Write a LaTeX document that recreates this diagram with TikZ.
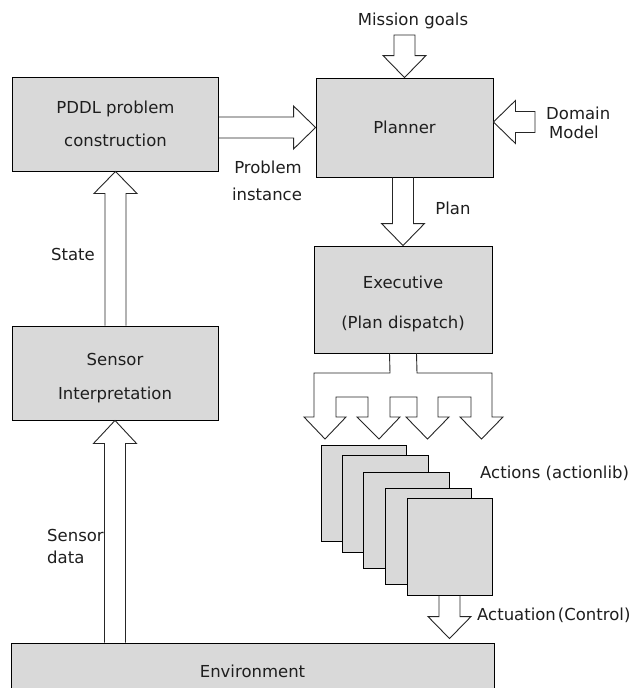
\documentclass[tikz,border=0pt]{standalone}
\usepackage{fontspec}
\setmainfont{DejaVu Sans}
\usetikzlibrary{calc}
\definecolor{boxfill}{RGB}{217,217,217}
\definecolor{ink}{RGB}{30,30,30}
\tikzset{
  block/.style={draw=black, fill=boxfill, line width=0.9pt, inner sep=0pt,
                align=center, text=ink},
  blk/.style={draw=black!85, line width=0.9pt},
  lbl/.style={text=ink, inner sep=0pt, text height=12pt, text depth=0pt},
}
% vertical block arrow: shaft start, tip, signed head length, path ending
\newcommand\vflow[4]{%
  \draw[blk] let \p1=(#1), \p2=(#2) in
    (\x2-10.5pt,\y1) -- (\x2-10.5pt,\y2+#3) -- (\x2-21.5pt,\y2+#3) -- (\x2,\y2)
    -- (\x2+21.5pt,\y2+#3) -- (\x2+10.5pt,\y2+#3) -- (\x2+10.5pt,\y1) #4;}
% horizontal block arrow: shaft start, tip, signed head length, path ending
\newcommand\hflow[4]{%
  \draw[blk] let \p1=(#1), \p2=(#2) in
    (\x1,\y2+10.5pt) -- (\x2-#3,\y2+10.5pt) -- (\x2-#3,\y2+21.5pt) -- (\x2,\y2)
    -- (\x2-#3,\y2-21.5pt) -- (\x2-#3,\y2-10.5pt) -- (\x1,\y2-10.5pt) #4;}
\begin{document}
\begin{tikzpicture}[x=1pt,y=-1pt,font=\fontsize{16.5}{20}\selectfont]
\useasboundingbox[fill=white] (0,0) rectangle (632,688);

% main blocks
\node[block, minimum width=206, minimum height=94] (pddl) at (115.5,124)
  {PDDL problem\\[13pt]construction};
\node[block, minimum width=177, minimum height=99] (planner) at (404.5,127.5)
  {Planner};
\node[block, minimum width=178, minimum height=107] (exec) at (403,299.5)
  {\rule{0pt}{22pt}Executive\\[20pt](Plan dispatch)};
\node[block, minimum width=206, minimum height=94] (sensor) at (115,373)
  {\rule{0pt}{22pt}Sensor\\[14pt]Interpretation};
\node[block, minimum width=483, minimum height=56] (env) at (252.5,671)
  {Environment};

% stacked action servers
\node[block, minimum width=85, minimum height=96] (act1) at (363.5,493) {};
\node[block, minimum width=86, minimum height=97] (act2) at (385,503.5) {};
\node[block, minimum width=86, minimum height=96] (act3) at (406,520) {};
\node[block, minimum width=86, minimum height=96] (act4) at (428,536) {};
\node[block, minimum width=85, minimum height=97] (act5) at (449.5,546.5) {};

% free ends of the input arrows
\coordinate (goalsrc) at (406,35);
\coordinate (domsrc) at (535,122);
\coordinate (domtip) at ($(planner.east)+(0,-5.5)$);
\coordinate (acttip) at ($(act5.south |- env.north)+(0,-4)$);

% flows between blocks
\vflow{goalsrc}{planner.north}{22pt}{-- cycle}
\hflow{domsrc}{domtip}{-22pt}{-- cycle}
\hflow{pddl.east}{planner.west}{22pt}{}
\vflow{planner.south}{exec.north}{22pt}{}
\vflow{sensor.north}{pddl.south}{-22pt}{}
\vflow{env.north}{sensor.south}{-23pt}{}
\vflow{act5.south}{acttip}{22pt}{}

% dispatch fan-out from the executive to the actions
\draw[blk] ($(exec.south)+(-13.5,0)$) -- (390,373) -- (314,373) -- (314,417)
  -- (304,417) -- (325,439) -- (346,417) -- (336,417) -- (336,397)
  -- (368,397) -- (368,417) -- (357,417) -- (379,439) -- (400,417)
  -- (390,417) -- (390,397) -- (417,397) -- (417,417) -- (406,417)
  -- (427.5,439) -- (449,417) -- (438,417) -- (438,397) -- (471,397)
  -- (471,417) -- (460,417) -- (481.5,439) -- (503,417) -- (492,417)
  -- (492,373) -- (417,373) -- ($(exec.south)+(13.5,0)$);

% labels
\node[lbl] (lgoals) at (413,19) {Mission goals};
\node[lbl, anchor=west] (ldom) at (546,113) {Domain};
\node[lbl, anchor=west] (lmodel) at (549,132) {Model};
\node[lbl] (lprob) at (268,167) {Problem};
\node[lbl] (linst) at (267,194) {instance};
\node[lbl] (lplan) at (453,208) {Plan};
\node[lbl] (lstate) at (73,254) {State};
\node[lbl, anchor=west] (lsens) at (47,535) {Sensor};
\node[lbl, anchor=west] (ldata) at (47,557) {data};
\node[lbl, anchor=west] (lactions) at (480,472) {Actions (actionlib)};
\node[lbl, anchor=west] (lactu) at (477,614) {Actuation\hspace{2pt}(Control)};
\end{tikzpicture}
\end{document}
